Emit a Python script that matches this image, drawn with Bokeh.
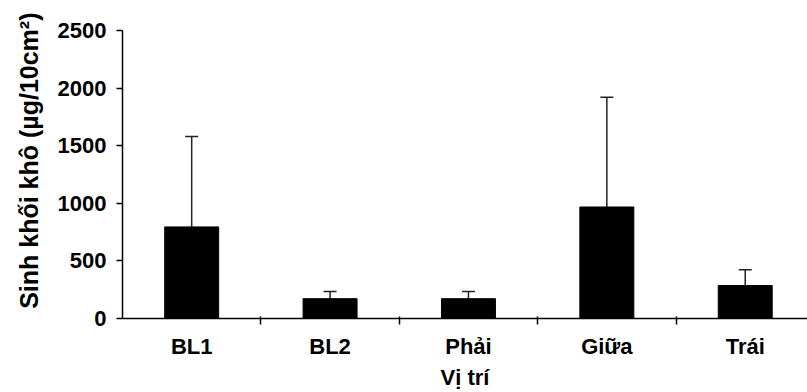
from bokeh.plotting import figure
from bokeh.models import Range1d, FixedTicker, Whisker, TeeHead, ColumnDataSource, Title
from bokeh.embed import file_html
from bokeh.resources import INLINE

categories = ["BL1", "BL2", "Phải", "Giữa", "Trái"]
means = [795, 172, 172, 968, 286]
errors = [785, 62, 62, 952, 138]
y_ticks = [0, 500, 1000, 1500, 2000, 2500]

x_pos = [i + 0.5 for i in range(len(categories))]
upper = [m + e for m, e in zip(means, errors)]

src = ColumnDataSource(dict(x=x_pos, top=means, upper=upper, cat=categories))

FONT = "Liberation Sans"

p = figure(width=807, height=392, output_backend="svg", toolbar_location=None,
           x_range=Range1d(0, 4.95), y_range=Range1d(0, 2500),
           min_border_left=122, min_border_right=0, min_border_top=30,
           min_border_bottom=0)
p.outline_line_color = None
p.xgrid.visible = False
p.ygrid.visible = False
p.background_fill_color = "white"
p.border_fill_color = "white"

p.vbar(x="x", top="top", bottom=0, width=0.39, source=src,
       fill_color="black", line_color="black")

w = Whisker(base="x", upper="upper", lower="top", source=src,
            line_color="#222222", line_width=1.5,
            upper_head=TeeHead(size=13, line_color="#222222", line_width=1.5),
            lower_head=None)
p.add_layout(w)

# x axis
p.xaxis.ticker = FixedTicker(ticks=x_pos, minor_ticks=[1, 2, 3, 4])
p.xaxis.major_label_overrides = {x: c for x, c in zip(x_pos, categories)}
p.xaxis.major_tick_in = 0
p.xaxis.major_tick_out = 0
p.xaxis.minor_tick_in = 2
p.xaxis.minor_tick_out = 6
p.xaxis.minor_tick_line_width = 1.5
p.xaxis.minor_tick_line_color = "black"
p.xaxis.axis_line_width = 1.5
p.xaxis.major_label_standoff = 9
p.xaxis.major_label_text_font = FONT
p.xaxis.major_label_text_font_style = "bold"
p.xaxis.major_label_text_font_size = "22px"
p.xaxis.major_label_text_color = "black"
p.xaxis.axis_label = "Vị trí"
p.xaxis.axis_label_text_font = FONT
p.xaxis.axis_label_text_font_style = "bold"
p.xaxis.axis_label_text_font_size = "22px"
p.xaxis.axis_label_text_color = "black"
p.xaxis.axis_label_standoff = 3

# y axis
p.yaxis.ticker = FixedTicker(ticks=y_ticks, minor_ticks=[])
p.yaxis.major_tick_in = 0
p.yaxis.major_tick_out = 6
p.yaxis.major_tick_line_width = 1.5
p.yaxis.axis_line_width = 1.5
p.yaxis.major_label_standoff = 10
p.yaxis.major_label_text_font = FONT
p.yaxis.major_label_text_font_style = "bold"
p.yaxis.major_label_text_font_size = "22px"
p.yaxis.major_label_text_color = "black"

ytitle = Title(text="Sinh khối khô (µg/10cm²)", align="right", offset=-18,
               vertical_align="top", standoff=20, text_font=FONT,
               text_font_style="bold", text_font_size="25px", text_color="black")
p.add_layout(ytitle, "left")

open("out.html", "w").write(file_html(p, INLINE))
